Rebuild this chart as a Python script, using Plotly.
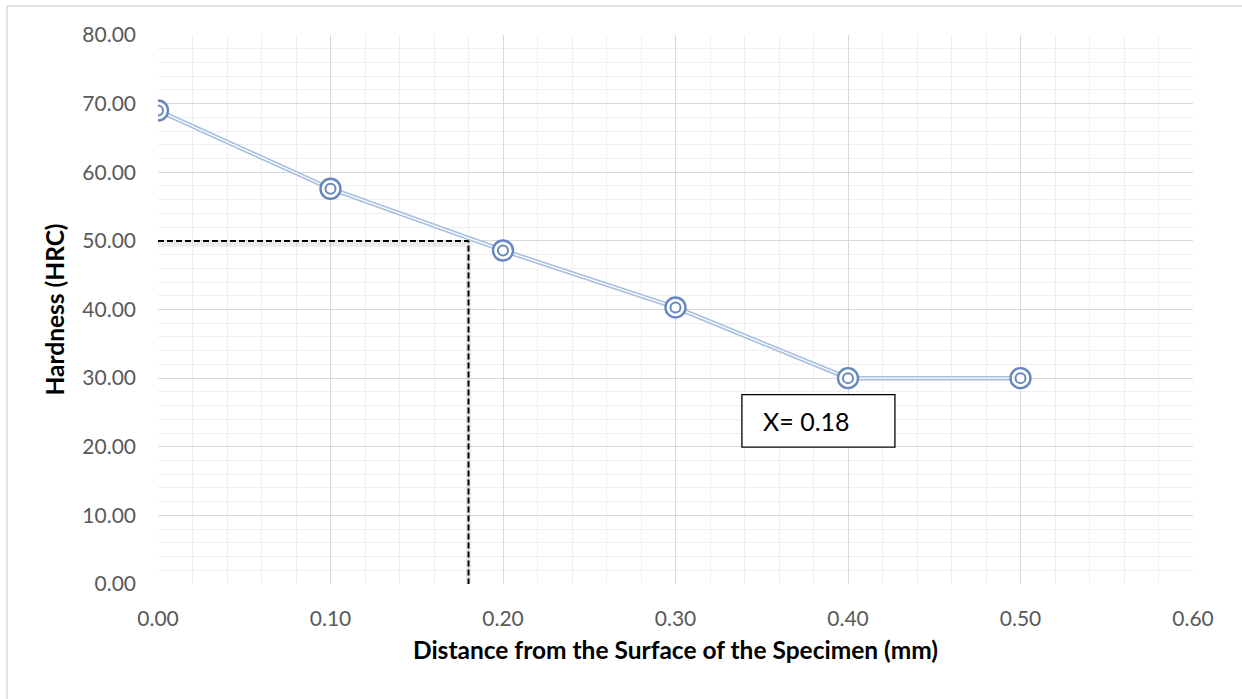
import plotly.graph_objects as go

distance = [0.0, 0.1, 0.2, 0.3, 0.4, 0.5]
hardness = [69.0, 57.6, 48.6, 40.3, 30.0, 30.0]
x_ticks = [0.0, 0.1, 0.2, 0.3, 0.4, 0.5, 0.6]
y_ticks = [0, 10, 20, 30, 40, 50, 60, 70, 80]
target_h = 50.0
target_x = 0.18
label_text = "X= 0.18"

FONT = "Lato, 'Open Sans', Arial, sans-serif"
fig = go.Figure()

# dashed guide lines (with a faint shadow)
fig.add_trace(go.Scatter(x=[0, target_x, target_x], y=[target_h - 0.5, target_h - 0.5, 0],
                         mode="lines", line=dict(color="rgba(0,0,0,0.08)", width=5),
                         hoverinfo="skip", showlegend=False))
fig.add_trace(go.Scatter(x=[0, target_x, target_x], y=[target_h, target_h, 0],
                         mode="lines", line=dict(color="black", width=2, dash="6px,3px"),
                         hoverinfo="skip", showlegend=False))

# double line effect
fig.add_trace(go.Scatter(x=distance, y=hardness, mode="lines",
                         line=dict(color="#a7bfe0", width=4.5), showlegend=False))
fig.add_trace(go.Scatter(x=distance, y=hardness, mode="lines",
                         line=dict(color="white", width=1.3), showlegend=False))
# double circle markers
fig.add_trace(go.Scatter(x=distance, y=hardness, mode="markers",
                         marker=dict(symbol="circle", size=20, color="white",
                                     line=dict(color="#6687bd", width=2.4)),
                         showlegend=False))
fig.add_trace(go.Scatter(x=distance, y=hardness, mode="markers",
                         marker=dict(symbol="circle-open", size=10, color="#6687bd",
                                     line=dict(color="#6687bd", width=2)),
                         showlegend=False))

# text box
fig.add_shape(type="rect", x0=0.3385, x1=0.4272, y0=19.95, y1=27.6,
              line=dict(color="black", width=1.3), fillcolor="white", layer="above")
fig.add_annotation(x=0.3757, y=23.8, text=label_text, showarrow=False,
                   font=dict(family=FONT, size=25, color="black"))

# outer chart border (left/top visible)
PX = 1035.0
PY = 549.0
fig.add_shape(type="line", xref="paper", yref="paper", x0=-151 / PX, x1=-151 / PX,
              y0=-115 / PY, y1=1 + 29 / PY, line=dict(color="#d9d9d9", width=1.5))
fig.add_shape(type="line", xref="paper", yref="paper", x0=-151 / PX, x1=1084 / PX,
              y0=1 + 29 / PY, y1=1 + 29 / PY, line=dict(color="#d9d9d9", width=1.5))

fig.update_layout(
    width=1242, height=699,
    margin=dict(l=158, r=49, t=35, b=115),
    paper_bgcolor="white", plot_bgcolor="white",
    font=dict(family=FONT),
    xaxis=dict(range=[0, 0.6], tickvals=x_ticks,
               ticktext=[f"{v:.2f}" for v in x_ticks],
               showgrid=True, gridcolor="#d9d9d9", gridwidth=1.2,
               minor=dict(dtick=0.02, showgrid=True, gridcolor="#efefef", gridwidth=1.2),
               zeroline=False, showline=False, ticks="",
               ticklabelstandoff=20,
               tickfont=dict(size=21, color="#595959"),
               title=dict(text="<b>Distance from the Surface of the Specimen (mm)</b>",
                          font=dict(size=24.5, color="black"), standoff=12)),
    yaxis=dict(range=[0, 80], tickvals=y_ticks,
               ticktext=[f"{v:.2f}" for v in y_ticks],
               showgrid=True, gridcolor="#d9d9d9", gridwidth=1.2,
               minor=dict(dtick=2, showgrid=True, gridcolor="#efefef", gridwidth=1.2),
               zeroline=False, showline=False, ticks="",
               ticklabelstandoff=21,
               tickfont=dict(size=21, color="#595959"),
               title=dict(text="<b>Hardness (HRC)</b>",
                          font=dict(size=24.5, color="black"), standoff=10)),
)

fig.write_html("out.html")
